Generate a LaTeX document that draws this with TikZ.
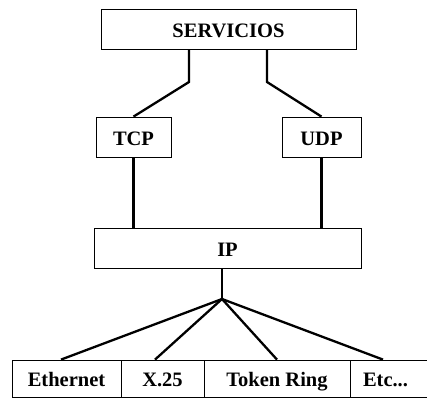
\documentclass[tikz,border=0pt]{standalone}
\usepackage{fontspec}
\setmainfont{Liberation Serif}
\usetikzlibrary{calc}
\begin{document}
\begin{tikzpicture}[x=1pt,y=-1pt,
  box/.style={draw=black,line width=0.8pt,rectangle,inner sep=0pt,
    text height=16.5pt,text depth=0pt,
    font=\fontsize{20.5}{24}\selectfont\bfseries},
  link/.style={draw=black,line width=2.3pt}]
\useasboundingbox (0,0) rectangle (427,398);
\node[box,minimum width=255pt,minimum height=40pt] (serv) at (228.5,29) {SERVICIOS};
\node[box,minimum width=75pt,minimum height=40pt] (tcp) at (133.5,137) {TCP};
\node[box,minimum width=79pt,minimum height=40pt] (udp) at (321.5,137) {UDP};
\node[box,minimum width=267pt,minimum height=40pt] (ip) at (227.5,248) {IP};
\node[box,minimum width=109pt,minimum height=37pt] (eth) at (66.5,378.5) {Ethernet};
\node[box,minimum width=83pt,minimum height=37pt] (x25) at (162.5,378.5) {X.25};
\node[box,minimum width=146pt,minimum height=37pt] (tr) at (277,378.5) {Token Ring};
\node[box,minimum width=90pt,minimum height=37pt,text width=64pt,align=left] (etc) at (395,378.5) {Etc...};
\coordinate (sl) at (189,82);
\coordinate (sr) at (267,82);
\coordinate (hub) at (222,299);
\draw[link] (serv.south -| sl) -- (sl) -- (tcp.north);
\draw[link] (serv.south -| sr) -- (sr) -- (udp.north);
\draw[link] (tcp.south) -- (ip.north -| tcp.south);
\draw[link] (udp.south) -- (ip.north -| udp.south);
\draw[link] (ip.south -| hub) -- (hub);
\draw[link] (hub) -- ([xshift=-5.5pt]eth.north);
\draw[link] (hub) -- ([xshift=-7.5pt]x25.north);
\draw[link] (hub) -- (tr.north);
\draw[link] (hub) -- ([xshift=-12pt]etc.north);
\end{tikzpicture}
\end{document}
